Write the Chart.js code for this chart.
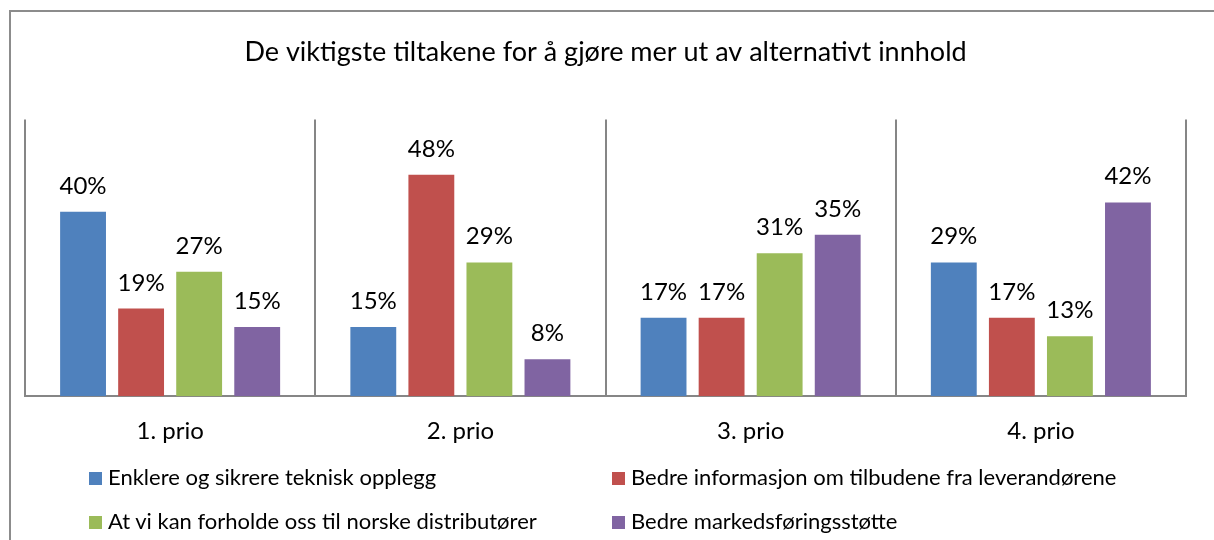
<!DOCTYPE html>
<html>
<head>
<meta charset="utf-8">
<script src="https://cdn.jsdelivr.net/npm/chart.js@4"></script>
<style>
  html, body { margin: 0; padding: 0; background: #fff; overflow: hidden; }
  body { width: 1214px; height: 540px; position: relative; font-family: Lato, "Open Sans", sans-serif; }
  #frame { position: absolute; left: 9px; top: 10px; width: 1300px; height: 600px;
           border-top: 2px solid #8c8c8c; border-left: 2px solid #8c8c8c; box-sizing: border-box; }
  #wrap { position: absolute; left: 0; top: 0; width: 1214px; height: 540px; }
  #legend { position: absolute; left: 0; top: 0; width: 1214px; height: 540px; pointer-events: none; }
  .item { position: absolute; font-size: 22px; color: #000; white-space: nowrap; line-height: 20px; }
  .box { display: inline-block; width: 13px; height: 13px; margin-right: 6px; vertical-align: 0px; }
</style>
</head>
<body>
<div id="frame"></div>
<div id="wrap"><canvas id="chart" width="1214" height="540"></canvas></div>
<div id="legend"></div>
<script>
// data
const categories = ['1. prio', '2. prio', '3. prio', '4. prio'];
const seriesNames = [
  'Enklere og sikrere teknisk opplegg',
  'Bedre informasjon om tilbudene fra leverandørene',
  'At vi kan forholde oss til norske distributører',
  'Bedre markedsføringsstøtte'
];
const enklere = [40, 15, 17, 29];
const informasjon = [19, 48, 17, 17];
const distributorer = [27, 29, 31, 13];
const markedsforing = [15, 8, 35, 42];
const colors = ['#4f81bd', '#c0504d', '#9bbb59', '#8064a2'];
const titleText = 'De viktigste tiltakene for å gjøre mer ut av alternativt innhold';

const values = [enklere, informasjon, distributorer, markedsforing];
const fontFamily = 'Lato, "Open Sans", sans-serif';

// value labels above each bar
const barLabels = {
  id: 'barLabels',
  afterDatasetsDraw(chart) {
    const ctx = chart.ctx;
    ctx.save();
    ctx.font = '24px ' + fontFamily;
    ctx.fillStyle = '#000';
    ctx.textAlign = 'center';
    ctx.textBaseline = 'alphabetic';
    chart.data.datasets.forEach((ds, i) => {
      chart.getDatasetMeta(i).data.forEach((bar, j) => {
        ctx.fillText(ds.data[j] + '%', bar.x, bar.y - 18);
      });
    });
    ctx.restore();
  }
};

new Chart(document.getElementById('chart'), {
  type: 'bar',
  data: {
    labels: categories,
    datasets: seriesNames.map((name, i) => ({
      label: name,
      data: values[i],
      backgroundColor: colors[i],
      categoryPercentage: 0.8,
      barPercentage: 0.79
    }))
  },
  options: {
    responsive: false,
    animation: false,
    layout: { padding: { left: 25, right: 28, top: 36, bottom: 73 } },
    plugins: {
      legend: { display: false },
      tooltip: { enabled: false },
      title: {
        display: true,
        text: titleText,
        color: '#000',
        font: { family: fontFamily, size: 27, weight: 'normal' },
        padding: { top: 0, bottom: 51 }
      }
    },
    scales: {
      x: {
        grid: { offset: true, color: '#868686', lineWidth: 2, drawTicks: false },
        border: { color: '#868686', width: 2 },
        ticks: { color: '#000', padding: 21, font: { family: fontFamily, size: 24 } }
      },
      y: {
        display: false,
        min: 0,
        max: 60
      }
    }
  },
  plugins: [barLabels]
});

// legend in two columns, like the original
const legend = document.getElementById('legend');
const colX = [89, 612];
const rowY = [467, 511];
seriesNames.forEach((name, i) => {
  const el = document.createElement('div');
  el.className = 'item';
  el.style.left = colX[i % 2] + 'px';
  el.style.top = rowY[Math.floor(i / 2)] + 'px';
  el.innerHTML = '<span class="box" style="background:' + colors[i] + '"></span>' + name;
  legend.appendChild(el);
});
</script>
</body>
</html>
